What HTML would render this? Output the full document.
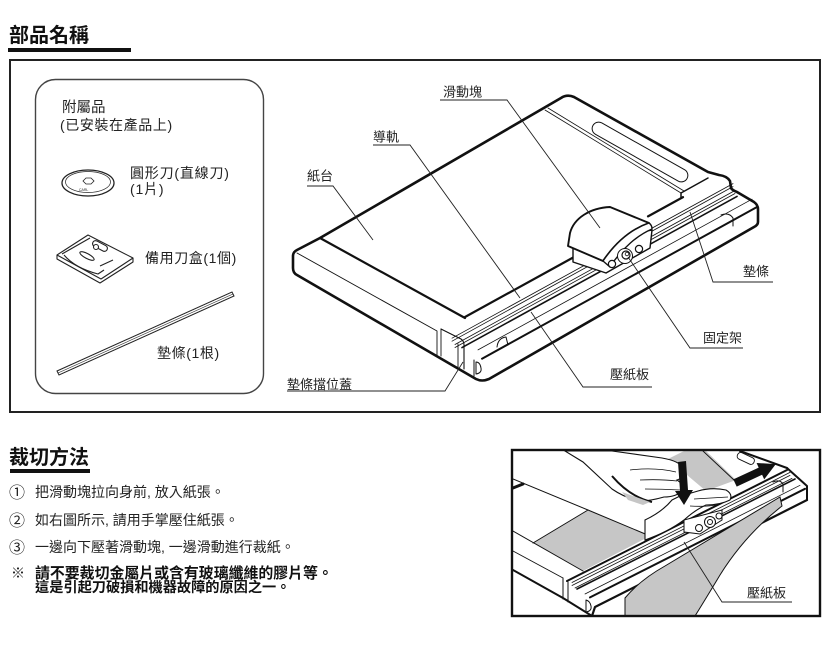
<!DOCTYPE html>
<html><head><meta charset="utf-8">
<style>
html,body{margin:0;padding:0;background:#fff;}
svg{display:block;}
text{font-family:"Liberation Sans","Noto Sans CJK TC",sans-serif;fill:#222;}
.b{font-weight:bold;fill:#111;}
</style></head><body>
<svg width="831" height="652" viewBox="0 0 831 652" xmlns="http://www.w3.org/2000/svg">
<defs>
<clipPath id="cp"><rect x="513" y="451" width="306" height="164"/></clipPath>
</defs>

<!-- ===== Title 1 ===== -->
<text x="9" y="42" font-size="20" class="b">部品名稱</text>
<rect x="8" y="48" width="123" height="4" fill="#111"/>

<!-- big frame -->
<rect x="10" y="60" width="810" height="352" fill="none" stroke="#222" stroke-width="2"/>

<!-- accessories box -->
<rect x="35.5" y="79.5" width="228" height="314" rx="20" fill="none" stroke="#444" stroke-width="1.4"/>
<text x="62" y="112" font-size="14.5">附屬品</text>
<text x="60" y="130" font-size="14" letter-spacing="0.6">(已安裝在產品上)</text>
<text x="130" y="178" font-size="14" letter-spacing="0.8">圓形刀(直線刀)</text>
<text x="130" y="194" font-size="14" letter-spacing="0.8">(1片)</text>
<text x="145" y="263" font-size="14" letter-spacing="0.6">備用刀盒(1個)</text>
<text x="157" y="358" font-size="14" letter-spacing="0.6">墊條(1根)</text>

<!-- disc -->
<g fill="none" stroke="#222" stroke-width="1">
<ellipse cx="88" cy="183" rx="26" ry="13" stroke-width="1.3"/>
<ellipse cx="88" cy="182" rx="22.5" ry="10.5" stroke-width="0.7"/>
<polygon points="83,181 86,178 91,178 94,181 91,184 86,184" stroke-width="0.8"/>
</g>
<text x="79" y="191" font-size="3.5" fill="#444">CARL</text>

<!-- blade box -->
<g fill="#fff" stroke="#222" stroke-width="1.1" stroke-linejoin="round">
<path d="M57,255 L57,259 L100,283 L133,262 L133,258"/>
<path d="M57,255 L88,235 L133,258 L101,279 Z"/>
<path fill="none" d="M64,255 Q75,268 98,274 L104,270"/>
<path fill="none" d="M62,254 L90,238"/>
<rect x="92" y="243" width="16" height="6" rx="3" transform="rotate(28 100 246)"/>
<ellipse cx="87" cy="256" rx="8" ry="2.4" transform="rotate(28 87 256)"/>
<circle cx="96" cy="247" r="2.5"/>
<path fill="none" d="M100,266 L113,260"/>
</g>

<!-- strip -->
<g fill="#fff" stroke="#222" stroke-width="1">
<polygon points="57,371 232,292 234,296 59,375"/>
<line x1="58" y1="373" x2="233" y2="294" stroke-width="0.6"/>
</g>

<!-- ===== Main trimmer drawing ===== -->
<g fill="none" stroke="#111" stroke-linejoin="round" stroke-linecap="round">
<path stroke-width="2.6" d="M297,275 Q293,273 293,268 L293,256 Q293,252 297,250 L320,238 L561,98 Q567,94 574,97 L708,172 L719,175 Q727,176 730,181 L731,188 Q732,190 737,192 L754,202 Q758,205 758,209 L758,222 Q758,225 754,227 L489,379 Q482,382 476,379 Z"/>
<path stroke-width="2.2" d="M320,238 L465,318"/>
<path stroke-width="0.9" d="M297,253 L437,331 L437,355"/>
<path stroke-width="0.9" d="M441,329 L441,356"/>
<path stroke-width="1.1" d="M441,329 L461,339 Q464,341 464,345 L464,369"/>
<path stroke-width="0.9" d="M458,344 L458,367"/>
<path stroke-width="1" d="M474,360 L474,376 M476,362 L476,374 Q482,373 481,368 Q480,362 476,362"/>
<path stroke-width="2.2" d="M465,317 L577,255.4 M648,216.4 L683,197.1"/>
<path stroke-width="0.8" d="M545,110 L681,193 M548,108 L684,191"/>
<path stroke-width="1.5" d="M681,193 L708,178 M681,193 L681,198"/>
<rect x="586" y="145.5" width="108" height="13" rx="6.5" transform="rotate(29.5 640 152)" stroke-width="1"/>
<path stroke-width="0.8" d="M452,338.2 L733,183.6 M452,341.2 L733,186.6"/>
<path stroke-width="0.8" d="M455,344.5 L735,190.5 M455,347.5 L735,193.5"/>
<path stroke-width="1.6" d="M462,347.6 L737,196.4"/>
<path stroke-width="0.8" d="M478,349.9 L752,199.2"/>
<path stroke-width="2" d="M482,358.7 L757,207"/>
<path stroke-width="1" d="M497,347 Q498,338 506,337 L508,345"/>
<path stroke-width="1" d="M721,215 Q729,212 733,218 L733,226"/>
</g>

<!-- slider -->
<g stroke="#111" stroke-linejoin="round" fill="#fff">
<path stroke-width="1.4" d="M573,243 L573,262 L606,273 L650,248 L652,230 Z"/>
<path stroke-width="1.9" d="M568,246 L570,233 C574,218 590,208 610,207 L649,223 C632,229 616,242 603,261 Z"/>
<path stroke-width="1.4" d="M603,261 C616,242 632,229 649,223 Q652,225 652,229 C638,235 622,248 610,267 Z"/>
<circle cx="612" cy="264" r="3.6" stroke-width="1.2"/>
<circle cx="639" cy="249" r="3.6" stroke-width="1.2"/>
<circle cx="625" cy="256" r="7.5" stroke-width="1"/>
<circle cx="626" cy="255" r="4" stroke-width="1.2"/>
<circle cx="627" cy="254" r="1.8" stroke-width="0.8"/>
</g>

<!-- main labels & leaders -->
<g fill="none" stroke="#222" stroke-width="0.9">
<path d="M440,100 L507,100 L600,228"/>
<path d="M373,145 L410,145 L520,298"/>
<path d="M307,186 L333,186 L373,240"/>
<path d="M287,391 L445,391 L463,362"/>
<path d="M652,387 L583,387 L531,312"/>
<path d="M743,348 L690,348 L628,257"/>
<path d="M773,282 L713,282 L690,212"/>
</g>
<text x="443" y="96.5" font-size="13">滑動塊</text>
<text x="373" y="141.5" font-size="13">導軌</text>
<text x="307" y="180.5" font-size="13">紙台</text>
<text x="287" y="389" font-size="13">墊條擋位蓋</text>
<text x="610" y="379" font-size="13">壓紙板</text>
<text x="703" y="342.5" font-size="13">固定架</text>
<text x="743" y="276" font-size="13">墊條</text>

<!-- ===== Title 2 ===== -->
<text x="9" y="464" font-size="20" class="b">裁切方法</text>
<rect x="10" y="469" width="80" height="4" fill="#111"/>

<text x="9" y="498" font-size="16">①</text>
<text x="35" y="497" font-size="14">把滑動塊拉向身前, 放入紙張。</text>
<text x="9" y="526" font-size="16">②</text>
<text x="35" y="525" font-size="14">如右圖所示, 請用手掌壓住紙張。</text>
<text x="9" y="553" font-size="16">③</text>
<text x="35" y="552" font-size="14">一邊向下壓著滑動塊, 一邊滑動進行裁紙。</text>
<text x="11" y="578" font-size="14">※</text>
<text x="35" y="578" font-size="14.9" class="b">請不要裁切金屬片或含有玻璃纖維的膠片等。</text>
<text x="35" y="592" font-size="14.2" class="b">這是引起刀破損和機器故障的原因之一。</text>

<!-- ===== Bottom-right illustration ===== -->
<g clip-path="url(#cp)">
<polygon points="533,543 588,510 650,536 583,571" fill="#c6c6c6"/>
<polygon points="668,459 684,451 706,451 736,480 706,491" fill="#c6c6c6"/>
<g fill="none" stroke="#111" stroke-linejoin="round" stroke-linecap="round">
<path stroke-width="1" d="M513,479 L588,510 L650,536"/>
<path stroke-width="3" d="M513,488 L523,484"/>
<path stroke-width="1" d="M513,531 L583,571"/>
<path stroke-width="1" d="M533,543 L588,510"/>
<path stroke-width="0.9" d="M513,551 L563,578"/>
<path stroke-width="2" d="M513,570 L563,598 L592,616"/>
<path stroke-width="1" d="M563,578 L563,599 M568,582 L568,602"/>
<path stroke-width="1" d="M586,600 L586,612 Q592,611 591,606 Q590,601 586,600"/>
<path stroke-width="2" d="M567,581 L787,470"/>
<path stroke-width="0.8" d="M572,582.5 L790,472.4 M572,585.5 L790,475.4 M575,588 L792,478.4"/>
<path stroke-width="1.6" d="M577,589 L795,479"/>
<path stroke-width="0.8" d="M585,594 L800,485.3"/>
<path stroke-width="2" d="M590,597.4 L805,488.8"/>
<path stroke-width="2.2" d="M592,616 L595,607 L807,500"/>
<path stroke-width="2" d="M787,468 L807,486 L807,500"/>
<path stroke-width="1" d="M773,482 Q780,479 783,484 L783,492"/>
<path stroke-width="0.9" d="M703,451 L735,481"/>
<path stroke-width="2" d="M740,451 L787,468"/>
<rect x="737" y="455" width="18" height="7" rx="3" transform="rotate(25 746 458)" stroke-width="0.9"/>
</g>
<path d="M625,616 L625,598 Q640,580 665,566 L780,497 L782,506 Q745,535 720,575 Q705,600 695,616 Z" fill="#c6c6c6" stroke="#111" stroke-width="1"/>
<path d="M565,451 L612,451 Q640,455 662,458 Q680,461 684,469 Q686,477 677,480 Q685,485 682,491 Q676,497 664,497 Q650,501 640,501 Q625,498 612,489 Q598,476 583,462 Z" fill="#fff" stroke="#111" stroke-width="1.1"/>
<path d="M612,476 Q630,497 652,502" fill="none" stroke="#111" stroke-width="2"/>
<polygon points="622,492 650,502 643,505 628,500" fill="#c6c6c6"/>
<path d="M630,470 Q655,467 676,472 M640,480 Q660,479 677,481 M645,489 Q662,489 680,490" fill="none" stroke="#111" stroke-width="0.8"/>
<g stroke="#111" fill="#fff" stroke-width="1">
<path d="M684,520 L684,532 L700,534 L722,520 L722,510 Z"/>
<circle cx="699" cy="528" r="3.5"/>
<circle cx="710" cy="522" r="5.5"/>
<circle cx="710" cy="522" r="2.5"/>
<circle cx="719" cy="516" r="3"/>
</g>
<path d="M645,540 Q668,532 684,520 Q695,510 706,505 Q720,505 730,500 Q733,494 726,490 Q712,487 698,491 Q688,494 680,496 L672,500 Q662,512 645,520 Z" fill="#fff" stroke="#111" stroke-width="1.1"/>
<path d="M694,499 Q712,498 728,497 M690,506 Q705,507 716,505" fill="none" stroke="#111" stroke-width="0.8"/>
<polygon points="678,462 686,461 688,490 693,490 684,505 675,491 680,491" fill="#111"/>
<polygon points="733.3,479.4 736.7,486.6 762.1,474.8 764.2,479.4 775.8,464.1 756.6,463 758.7,467.6" fill="#111"/>
<path d="M792,602 L722,602 L684,542" fill="none" stroke="#222" stroke-width="0.9"/>
</g>
<text x="747" y="597.5" font-size="13">壓紙板</text>
<rect x="512" y="450" width="308" height="166" fill="none" stroke="#111" stroke-width="2.4"/>
</svg>
</body></html>
